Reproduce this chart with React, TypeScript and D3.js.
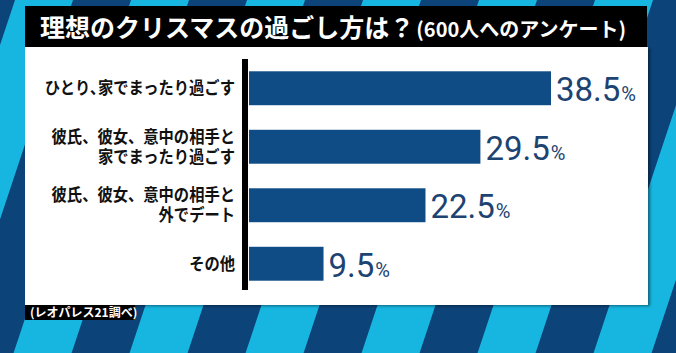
import { useMemo } from "react";
import * as d3 from "d3";

const categories = [
  ["ひとり､家でまったり過ごす"],
  ["彼氏、彼女、意中の相手と", "家でまったり過ごす"],
  ["彼氏、彼女、意中の相手と", "外でデート"],
  ["その他"],
];
const values = [38.5, 29.5, 22.5, 9.5];
const title = "理想のクリスマスの過ごし方は？";
const subtitle = "(600人へのアンケート)";
const source = "(レオパレス21調べ)";

const W = 676;
const H = 353;
const jp = "'Noto Sans CJK JP', 'Noto Sans', sans-serif";

export default function App() {
  const keys = categories.map((c) => c.join(""));

  const y = useMemo(
    () => d3.scaleBand().domain(keys).range([59, 293]).paddingInner(0.42).paddingOuter(0.21),
    []
  );
  const x = useMemo(() => d3.scaleLinear().domain([0, 50]).range([249, 641.2]), []);

  return (
    <svg
      width={W}
      height={H}
      style={{ position: "absolute", left: 0, top: 0, display: "block" }}
    >
      <defs>
        <pattern
          id="stripes"
          patternUnits="userSpaceOnUse"
          width={116}
          height={20}
          patternTransform="skewX(-18.4)"
        >
          <rect width={116} height={20} fill="#0c4379" />
          <rect x={15} width={58} height={20} fill="#17b6e0" />
        </pattern>
        <filter id="shadow" x="-5%" y="-5%" width="110%" height="110%">
          <feDropShadow dx={2} dy={1} stdDeviation={1.5} floodColor="#000" floodOpacity={0.45} />
        </filter>
      </defs>

      <rect width={W} height={H} fill="url(#stripes)" />

      {/* panel + title bar */}
      <rect x={25} y={47} width={623} height={258} fill="#fff" filter="url(#shadow)" />
      <rect x={25} y={6} width={622} height={41} fill="#000" />
      <text x={40} y={37} fill="#fff" fontFamily={jp} fontWeight={700}>
        <tspan fontSize={25}>{title}</tspan>
        <tspan fontSize={20} dx={2}>{subtitle}</tspan>
      </text>

      {/* bars */}
      {values.map((v, i) => (
        <rect
          key={keys[i]}
          x={x(0)}
          y={y(keys[i])}
          width={x(v) - x(0)}
          height={y.bandwidth()}
          fill="#0f4c86"
        />
      ))}

      {/* axis line */}
      <line x1={245} x2={245} y1={y.range()[0]} y2={y.range()[1] - 3} stroke="#000" strokeWidth={6} />

      {/* category labels, multi-line ones as tspans in one text */}
      {categories.map((lines, i) => {
        const cy = (y(keys[i]) ?? 0) + y.bandwidth() / 2;
        const lh = 20;
        const y0 = cy - ((lines.length - 1) * lh) / 2 + 6;
        return (
          <text
            key={keys[i]}
            transform={`translate(235,${y0}) scale(0.9,1)`}
            textAnchor="end"
            fontFamily={jp}
            fontWeight={700}
            fontSize={17}
            fill="#111"
          >
            {lines.map((ln, j) => (
              <tspan key={j} x={0} y={j * lh}>
                {ln}
              </tspan>
            ))}
          </text>
        );
      })}

      {/* value labels */}
      {values.map((v, i) => (
        <text
          key={"v" + keys[i]}
          x={x(v) + 5}
          y={(y(keys[i]) ?? 0) + y.bandwidth() / 2 + 13}
          fill="#1d4372"
          fontFamily="Roboto, 'Liberation Sans', sans-serif"
          fontWeight={400}
        >
          <tspan fontSize={33}>{v.toFixed(1)}</tspan>
          <tspan fontSize={20} dx={1}>%</tspan>
        </text>
      ))}

      {/* source */}
      <rect x={25} y={305} width={110} height={15} fill="#000" />
      <text x={30} y={317} fill="#fff" fontFamily={jp} fontWeight={700} fontSize={12}>
        {source}
      </text>
    </svg>
  );
}
